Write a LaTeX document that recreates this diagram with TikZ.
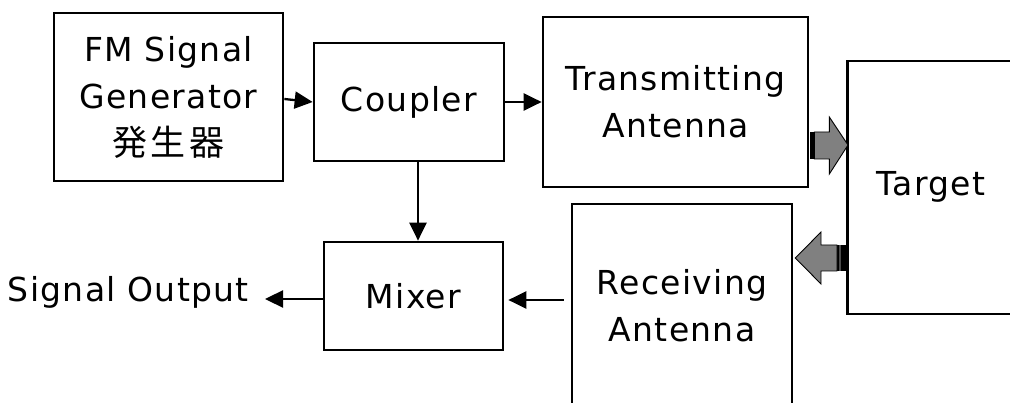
\documentclass[tikz,border=0pt]{standalone}
\usepackage{fontspec}
\setmainfont{DejaVu Sans}[LetterSpace=4]
\newfontfamily\cjk{Noto Sans CJK JP}
\usetikzlibrary{arrows.meta,calc}
\begin{document}
\begin{tikzpicture}[x=1pt,y=-1pt,
  box/.style={draw, line width=2.7pt, align=center, inner sep=0pt, font=\fontsize{33}{47}\selectfont},
  conn/.style={line width=2.3pt, -{Triangle[length=18pt,width=17pt]}},
  txt/.style={font=\fontsize{33}{47}\selectfont, align=center, inner sep=0pt},
  barrow/.style={fill=gray, draw=black, line width=0.9pt, line join=miter},
  bar/.style={fill=black}]
\useasboundingbox (0,0) rectangle (1010,403);
\clip (0,0) rectangle (1010,403);
\node[box, minimum width=229pt, minimum height=168pt] (gen) at (168.5,97) {FM Signal\\Generator\\{\cjk\fontsize{35}{47}\selectfont 発\hspace{4pt}生\hspace{4pt}器}};
\node[box, minimum width=190pt, minimum height=118pt] (coupler) at (409,102) {Coupler};
\node[box, minimum width=265pt, minimum height=170pt] (tx) at (675.5,102) {Transmitting\\Antenna};
\node[box, minimum width=200pt, minimum height=253pt, anchor=west] (target) at (846,187.5) {};
\node[txt] (targetlabel) at (931,187) {Target};
\node[box, minimum width=220pt, minimum height=204pt] (rx) at (682,306) {Receiving\\Antenna};
\node[box, minimum width=179pt, minimum height=108pt] (mixer) at (413.5,296) {Mixer};
\node[txt, anchor=east] (out) at (249,292) {Signal Output};
% connectors
\draw[conn] ($(gen.east)+(0,2)$) -- (coupler.west);
\draw[conn] (coupler.east) -- (tx.west);
\draw[conn] ($(coupler.south)+(9,0)$) -- ($(mixer.north)+(4.5,0)$);
\draw[conn] ($(rx.west)+(-7,-6)$) -- ($(mixer.east)+(4,4)$);
\draw[conn] ($(mixer.west)+(0,3)$) -- ($(out.east)+(16,7)$);
% block arrow: transmitting antenna -> target
\fill[bar] ($(tx.east)+(1,30)$) rectangle ($(tx.east)+(5,57)$);
\draw[barrow] ($(tx.east)+(5,30)$) -- ($(tx.east)+(20,30)$) -- ($(tx.east)+(20,15)$)
  -- ($(target.west)+(2,-42.5)$) -- ($(tx.east)+(20,72)$) -- ($(tx.east)+(20,57)$)
  -- ($(tx.east)+(5,57)$) -- cycle;
% block arrow: target -> receiving antenna
\fill[bar] ($(target.west)+(-9,57.5)$) rectangle ($(target.west)+(1,83.5)$);
\fill[gray!60!black] ($(target.west)+(-7,57.5)$) rectangle ($(target.west)+(-5,83.5)$);
\draw[barrow] ($(target.west)+(-9,57.5)$) -- ($(target.west)+(-25,57.5)$) -- ($(target.west)+(-25,44.5)$)
  -- ($(rx.east)+(2,-48)$) -- ($(target.west)+(-25,96.5)$) -- ($(target.west)+(-25,83.5)$)
  -- ($(target.west)+(-9,83.5)$) -- cycle;
\end{tikzpicture}
\end{document}
